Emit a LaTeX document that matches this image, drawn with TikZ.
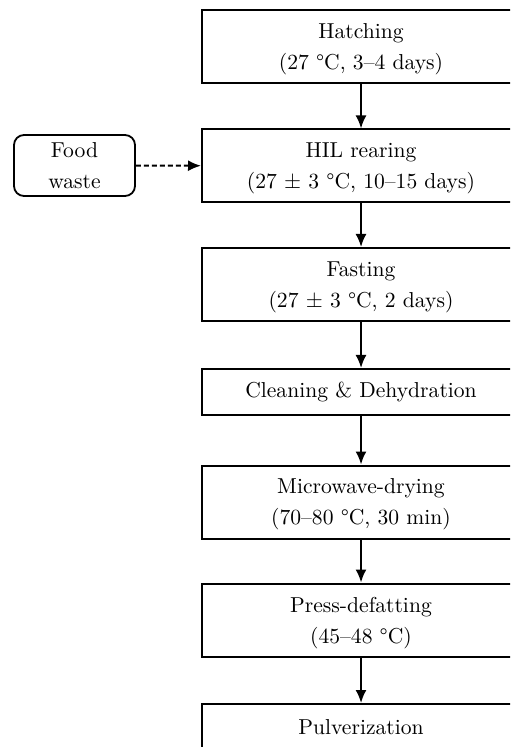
\documentclass[tikz,border=0pt]{standalone}
\usepackage{amsmath}
\usepackage{tikz}
\usetikzlibrary{arrows.meta,positioning}

\begin{document}
\begin{tikzpicture}[x=0.5pt,y=-0.5pt,
    stage/.style={draw, line width=1pt, rectangle, minimum width=159pt, minimum height=36.5pt,
        align=center, font=\fontsize{10.8}{15.5}\selectfont, inner sep=0pt, text depth=0pt},
    thin stage/.style={stage, minimum height=23pt, text depth=2pt},
    feed/.style={draw, line width=0.9pt, rounded corners=5pt, minimum width=60.5pt, minimum height=30.5pt,
        align=center, font=\fontsize{10.8}{15.5}\selectfont, inner sep=0pt},
    flow/.style={-{Latex[length=6.5pt,width=5.5pt]}, line width=1pt}]

% Frame of the page
\useasboundingbox (0,0) rectangle (510,747);
\clip (0,0) rectangle (510,747);

% Process stages
\node[stage] (hatch) at (361,46.5) {Hatching\\(27 \textdegree C, 3--4 days)};
\node[stage] (rearing) at (361,166) {HIL rearing\\(27 $\pm$ 3 \textdegree C, 10--15 days)};
\node[stage] (fasting) at (361,284.5) {Fasting\\(27 $\pm$ 3 \textdegree C, 2 days)};
\node[thin stage] (cleaning) at (361,392) {Cleaning \& Dehydration};
\node[stage] (drying) at (361,502) {Microwave-drying\\(70--80 \textdegree C, 30 min)};
\node[stage] (defat) at (361,620) {Press-defatting\\(45--48 \textdegree C)};
\node[stage, text height=15pt, text depth=21.5pt] (pulver) at (361,740.5) {Pulverization};

% Feed input
\node[feed] (waste) at (74.5,165.5) {Food\\waste};
\draw[flow, dashed, dash pattern=on 2.5pt off 1.5pt] (waste) -- (rearing);

% Main flow
\draw[flow] (hatch) -- (rearing);
\draw[flow] (rearing) -- (fasting);
\draw[flow] (fasting) -- (cleaning);
\draw[flow] (cleaning) -- (drying);
\draw[flow] (drying) -- (defat);
\draw[flow] (defat) -- (pulver);

\end{tikzpicture}
\end{document}
